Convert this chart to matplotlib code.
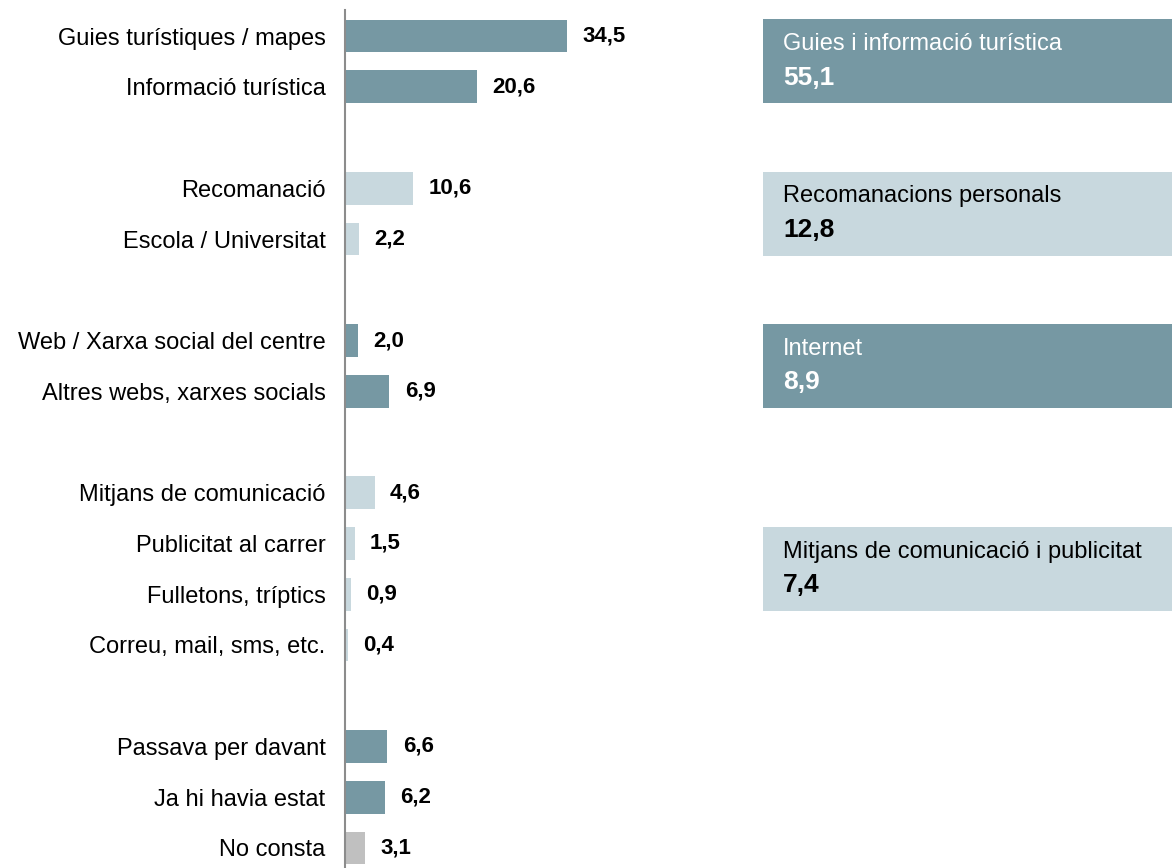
import numpy as np
import matplotlib.pyplot as plt
from matplotlib.patches import Rectangle

plt.rcParams['font.family'] = ['Liberation Sans', 'DejaVu Sans']

# Items and percentages (empty rows separate the groups)
labels = ['Guies turístiques / mapes', 'Informació turística',
          'Recomanació', 'Escola / Universitat',
          'Web / Xarxa social del centre', 'Altres webs, xarxes socials',
          'Mitjans de comunicació', 'Publicitat al carrer',
          'Fulletons, tríptics', 'Correu, mail, sms, etc.',
          'Passava per davant', 'Ja hi havia estat', 'No consta']
values = [34.5, 20.6, 10.6, 2.2, 2.0, 6.9, 4.6, 1.5, 0.9, 0.4, 6.6, 6.2, 3.1]
rows = [0, 1, 3, 4, 6, 7, 9, 10, 11, 12, 14, 15, 16]
kinds = ['dark', 'dark', 'light', 'light', 'dark', 'dark',
         'light', 'light', 'light', 'light', 'dark', 'dark', 'grey']

# Group totals shown in the boxes on the right
group_names = ['Guies i informació turística', 'Recomanacions personals',
               'Internet', 'Mitjans de comunicació i publicitat']
group_totals = [55.1, 12.8, 8.9, 7.4]
group_rows = [0.5, 3.5, 6.5, 10.5]
group_kinds = ['dark', 'light', 'dark', 'light']

fill = {'dark': '#7698a3', 'light': '#c8d8de', 'grey': '#c0c0c0'}
ink = {'dark': 'white', 'light': 'black'}

W, H = 1172, 868
fig = plt.figure(figsize=(W / 100, H / 100), dpi=100)
ax = fig.add_axes([345 / W, 0, (W - 345) / W, (H - 10) / H])

px = 6.43          # pixels per percentage point
step = 50.75       # pixels per row
ax.set_xlim(0, (W - 345) / px)
ax.set_ylim(16 + 20 / step, -26 / step)

ax.barh(rows, values, height=0.65, color=[fill[k] for k in kinds])
for r, v in zip(rows, values):
    ax.annotate(f'{v:.1f}'.replace('.', ','), (v, r), xytext=(11, 0),
                textcoords='offset points', va='center', ha='left',
                fontsize=16, fontweight='bold')

ax.set_yticks(rows)
ax.set_yticklabels(labels, fontsize=17)
ax.tick_params(axis='y', length=0, pad=14)
ax.set_xticks([])
for s in ['top', 'right', 'bottom']:
    ax.spines[s].set_visible(False)
ax.spines['left'].set_color('#8c8c8c')
ax.spines['left'].set_linewidth(1.5)

box_x = (763 - 345) / px
box_h = 84 / step
for name, tot, gr, k in zip(group_names, group_totals, group_rows, group_kinds):
    ax.add_patch(Rectangle((box_x, gr - box_h / 2), 200, box_h,
                           color=fill[k], clip_on=False, lw=0))
    ax.text(box_x + 20 / px, gr - 0.34, name, color=ink[k],
            fontsize=17, va='center', ha='left')
    ax.text(box_x + 20 / px, gr + 0.32, f'{tot:.1f}'.replace('.', ','),
            color=ink[k], fontsize=19, fontweight='bold', va='center', ha='left')

fig.savefig('out.png', dpi=100)
